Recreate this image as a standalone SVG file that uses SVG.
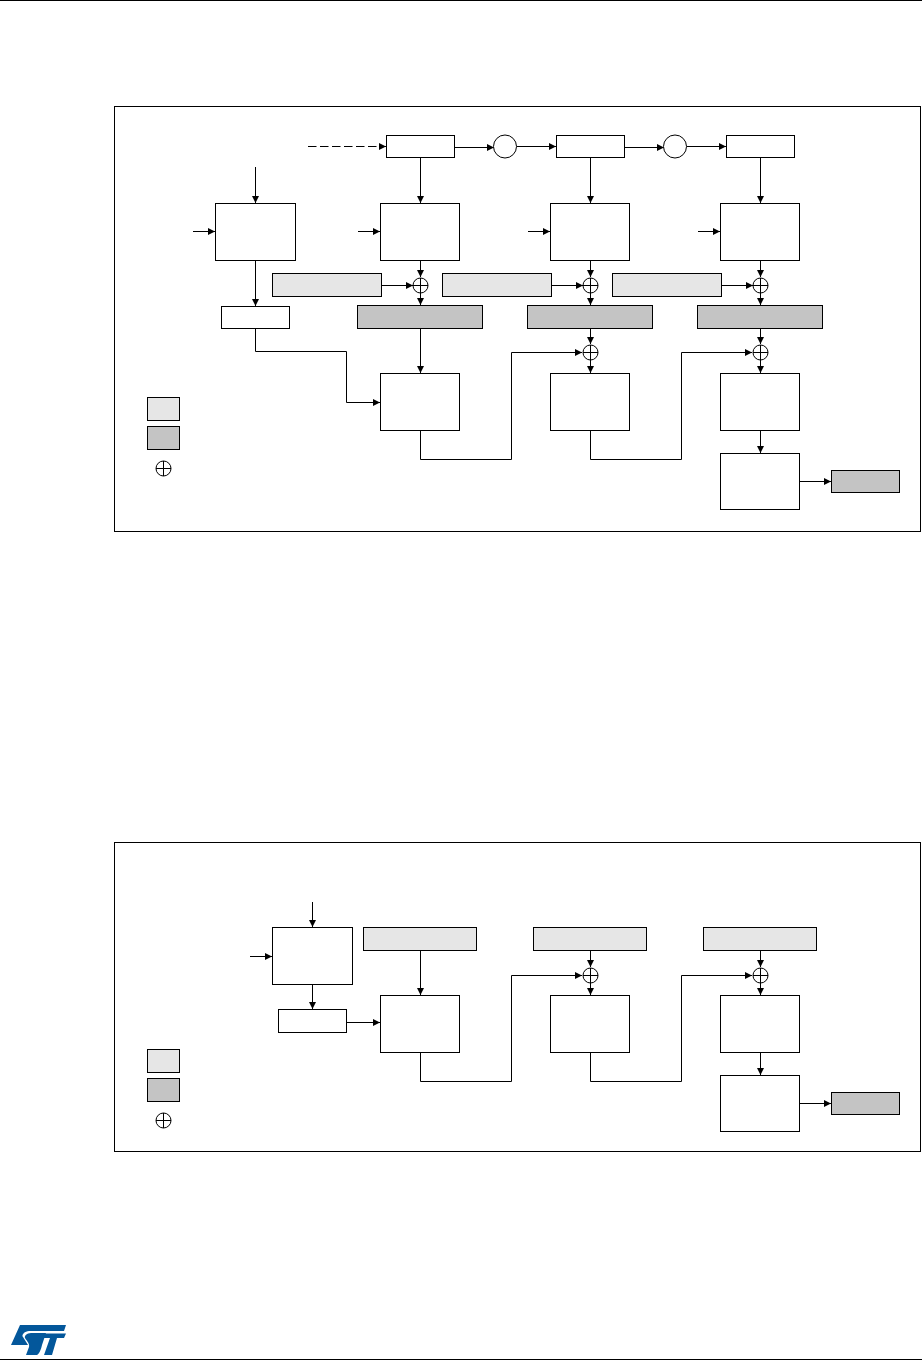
<svg xmlns="http://www.w3.org/2000/svg" width="922" height="1361" viewBox="0 0 922 1361">
<style>
.b{fill:#fff;stroke:#000;stroke-width:1}
.l{fill:#e6e6e6;stroke:#000;stroke-width:1}
.d{fill:#c4c4c4;stroke:#000;stroke-width:1}
.f{fill:none;stroke:#000;stroke-width:1}
.c{fill:none;stroke:#000;stroke-width:1;marker-end:url(#a)}
.x{fill:#fff;stroke:#000;stroke-width:1}
</style>
<defs>
<marker id="a" markerUnits="userSpaceOnUse" markerWidth="7" markerHeight="8" refX="7" refY="4" orient="auto"><path d="M0,0.5L7,4L0,7.5Z" fill="#000"/></marker>
<g id="xor"><circle r="7.5" class="x"/><path d="M-7.5,0H7.5M0,-7.5V7.5" class="f"/></g>
</defs>
<rect width="922" height="1361" fill="#fff"/>
<path d="M0,0.5H922M0,1359.5H922" class="f"/>
<g id="frame1"><rect x="114.5" y="106.5" width="806" height="425" class="f"/></g>
<g id="frame2"><rect x="114.5" y="842.5" width="806" height="309" class="f"/></g>
<g id="connectors">
<path d="M308,146.5H386" fill="none" stroke="#000" stroke-dasharray="8.5 3.5" marker-end="url(#a)"/>
<path class="c" d="M454.5,147.5H494"/><path class="c" d="M516.5,146.5H556"/><path class="c" d="M624.5,147.5H664"/><path class="c" d="M686.5,146.5H726"/>
<path class="c" d="M255.5,167V203"/><path class="c" d="M193,231.5H215"/>
<path class="c" d="M420.5,157.5V203"/><path class="c" d="M590.5,157.5V203"/><path class="c" d="M760.5,157.5V203"/>
<path class="c" d="M358,231.5H380"/><path class="c" d="M528,231.5H550"/><path class="c" d="M698,231.5H720"/>
<path class="c" d="M255.5,260.5V306"/>
<path class="c" d="M255.5,328.5V351.5H346.5V402.5H380"/>
<path class="c" d="M420.5,260.5V277"/><path class="c" d="M590.5,260.5V277"/><path class="c" d="M760.5,260.5V277"/>
<path class="c" d="M381.5,285.5H413"/><path class="c" d="M551.5,285.5H583"/><path class="c" d="M721.5,285.5H753"/>
<path class="c" d="M420.5,293V305"/><path class="c" d="M590.5,293V305"/><path class="c" d="M760.5,293V305"/>
<path class="c" d="M420.5,328V373"/>
<path class="c" d="M590.5,328V344"/><path class="c" d="M760.5,328V344"/>
<path class="c" d="M590.5,360V373"/><path class="c" d="M760.5,360V373"/>
<path class="c" d="M420.5,430.5V459.5H511.5V352.5H582"/>
<path class="c" d="M590.5,430.5V459.5H681.5V352.5H752"/>
<path class="c" d="M760.5,430.5V453"/>
<path class="c" d="M799.5,481.5H831"/>
<path class="c" d="M312.5,902V927"/><path class="c" d="M250,956.5H272"/><path class="c" d="M312.5,984.5V1009"/><path class="c" d="M346.5,1022.5H380"/>
<path class="c" d="M420.5,950V995"/>
<path class="c" d="M590.5,950V967"/><path class="c" d="M760.5,950V967"/>
<path class="c" d="M590.5,983V995"/><path class="c" d="M760.5,983V995"/>
<path class="c" d="M420.5,1052.5V1081.5H511.5V975.5H582"/>
<path class="c" d="M590.5,1052.5V1081.5H681.5V975.5H752"/>
<path class="c" d="M760.5,1052.5V1075"/>
<path class="c" d="M799.5,1103.5H831"/>
</g>
<g id="counter1"><rect x="386.5" y="135.5" width="68" height="22" class="b"/></g>
<g id="counter2"><rect x="556.5" y="135.5" width="68" height="22" class="b"/></g>
<g id="counter3"><rect x="726.5" y="135.5" width="68" height="22" class="b"/></g>
<g id="inc1"><circle cx="505" cy="146.5" r="11.5" class="b"/></g>
<g id="inc2"><circle cx="675" cy="146.5" r="11.5" class="b"/></g>
<g id="block0"><rect x="215.5" y="203.5" width="80" height="57" class="b"/></g>
<g id="block1"><rect x="380.5" y="203.5" width="79" height="57" class="b"/></g>
<g id="block2"><rect x="550.5" y="203.5" width="79" height="57" class="b"/></g>
<g id="block3"><rect x="720.5" y="203.5" width="79" height="57" class="b"/></g>
<g id="plain1"><rect x="272.5" y="273.5" width="109" height="23" class="l"/></g>
<g id="plain2"><rect x="442.5" y="273.5" width="109" height="23" class="l"/></g>
<g id="plain3"><rect x="612.5" y="273.5" width="109" height="23" class="l"/></g>
<g id="xor1"><use href="#xor" x="420.5" y="285.5"/></g>
<g id="xor2"><use href="#xor" x="590.5" y="285.5"/></g>
<g id="xor3"><use href="#xor" x="760.5" y="285.5"/></g>
<g id="cipher1"><rect x="357.5" y="305.5" width="125" height="23" class="d"/></g>
<g id="cipher2"><rect x="527.5" y="305.5" width="125" height="23" class="d"/></g>
<g id="cipher3"><rect x="697.5" y="305.5" width="125" height="23" class="d"/></g>
<g id="tag0"><rect x="221.5" y="306.5" width="68" height="22" class="b"/></g>
<g id="xor4"><use href="#xor" x="590.5" y="352.5"/></g>
<g id="xor5"><use href="#xor" x="760.5" y="352.5"/></g>
<g id="gf1"><rect x="380.5" y="373.5" width="79" height="57" class="b"/></g>
<g id="gf2"><rect x="550.5" y="373.5" width="79" height="57" class="b"/></g>
<g id="gf3"><rect x="720.5" y="373.5" width="79" height="57" class="b"/></g>
<g id="final"><rect x="720.5" y="453.5" width="79" height="56" class="b"/></g>
<g id="tag"><rect x="831.5" y="470.5" width="68" height="22" class="d"/></g>
<g id="legend1"><rect x="147.5" y="397.5" width="32" height="23" class="l"/><rect x="147.5" y="426.5" width="32" height="23" class="d"/><use href="#xor" x="163.5" y="468.5"/></g>
<g id="b2block0"><rect x="272.5" y="927.5" width="80" height="57" class="b"/></g>
<g id="b2tag0"><rect x="278.5" y="1009.5" width="68" height="23" class="b"/></g>
<g id="b2plain1"><rect x="363.5" y="927.5" width="113" height="23" class="l"/></g>
<g id="b2plain2"><rect x="533.5" y="927.5" width="113" height="23" class="l"/></g>
<g id="b2plain3"><rect x="703.5" y="927.5" width="113" height="23" class="l"/></g>
<g id="b2xor1"><use href="#xor" x="590.5" y="975.5"/></g>
<g id="b2xor2"><use href="#xor" x="760.5" y="975.5"/></g>
<g id="b2gf1"><rect x="380.5" y="995.5" width="79" height="57" class="b"/></g>
<g id="b2gf2"><rect x="550.5" y="995.5" width="79" height="57" class="b"/></g>
<g id="b2gf3"><rect x="720.5" y="995.5" width="79" height="57" class="b"/></g>
<g id="b2final"><rect x="720.5" y="1075.5" width="79" height="56" class="b"/></g>
<g id="b2tag"><rect x="831.5" y="1092.5" width="68" height="22" class="d"/></g>
<g id="legend2"><rect x="147.5" y="1049.5" width="32" height="23" class="l"/><rect x="147.5" y="1078.5" width="32" height="23" class="d"/><use href="#xor" x="163.5" y="1120.5"/></g>
<g id="logo" fill="#03579b">
<path d="M20,1325H66L64,1331H29C25,1331 21,1335 23,1337L28,1345H11Z"/>
<path d="M31,1333H46L42,1345C41,1350 39,1354 37,1355H26L29,1347C30,1344 27,1341 25,1338C24,1336 27,1333 31,1333Z"/>
<path d="M44,1333.5H66L64,1338H57L52,1355H44L50,1338H42Z"/>
</g>
</svg>
